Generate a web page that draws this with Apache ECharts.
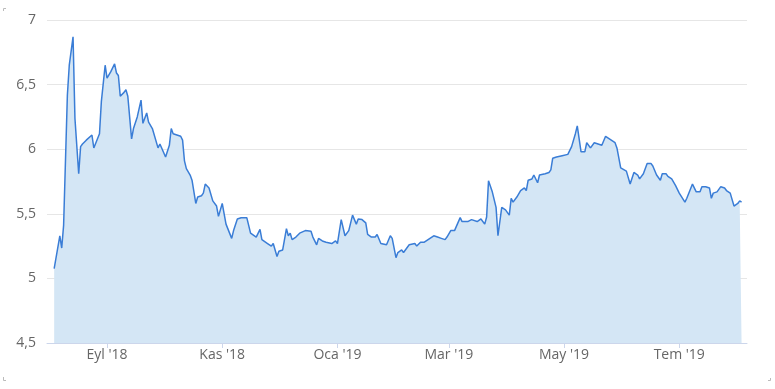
<!DOCTYPE html>
<html>
<head>
<meta charset="utf-8">
<script src="https://cdn.jsdelivr.net/npm/echarts@6/dist/echarts.min.js"></script>
<style>
  html, body { margin: 0; padding: 0; background: #fff; }
  #chart { width: 775px; height: 389px; }
</style>
</head>
<body>
<div id="chart"></div>
<script>
const dates = [
  '2018-08-04','2018-08-07','2018-08-08','2018-08-09','2018-08-11','2018-08-12','2018-08-14','2018-08-15','2018-08-17','2018-08-18',
  '2018-08-19','2018-08-21','2018-08-22','2018-08-24','2018-08-25','2018-08-26','2018-08-28','2018-08-29','2018-08-31','2018-09-01',
  '2018-09-03','2018-09-05','2018-09-06','2018-09-07','2018-09-08','2018-09-10','2018-09-11','2018-09-12','2018-09-14','2018-09-15',
  '2018-09-17','2018-09-19','2018-09-20','2018-09-22','2018-09-23','2018-09-25','2018-09-26','2018-09-28','2018-09-29','2018-10-02',
  '2018-10-04','2018-10-05','2018-10-06','2018-10-08','2018-10-10','2018-10-11','2018-10-12','2018-10-13','2018-10-15','2018-10-16',
  '2018-10-18','2018-10-19','2018-10-21','2018-10-22','2018-10-23','2018-10-25','2018-10-27','2018-10-29','2018-10-30','2018-11-01',
  '2018-11-03','2018-11-06','2018-11-07','2018-11-08','2018-11-09','2018-11-11','2018-11-14','2018-11-16','2018-11-19','2018-11-21',
  '2018-11-22','2018-11-25','2018-11-27','2018-11-28','2018-11-30','2018-12-01','2018-12-03','2018-12-05','2018-12-06','2018-12-07',
  '2018-12-08','2018-12-10','2018-12-12','2018-12-13','2018-12-15','2018-12-18','2018-12-19','2018-12-21','2018-12-22','2018-12-24',
  '2018-12-26','2018-12-27','2018-12-29','2018-12-31','2019-01-01','2019-01-03','2019-01-05','2019-01-07','2019-01-09','2019-01-10',
  '2019-01-11','2019-01-12','2019-01-14','2019-01-16','2019-01-17','2019-01-19','2019-01-21','2019-01-22','2019-01-24','2019-01-27',
  '2019-01-29','2019-01-30','2019-02-01','2019-02-02','2019-02-04','2019-02-05','2019-02-08','2019-02-09','2019-02-11','2019-02-12',
  '2019-02-14','2019-02-16','2019-02-17','2019-02-18','2019-02-19','2019-02-21','2019-02-23','2019-02-25','2019-02-27','2019-02-28',
  '2019-03-02','2019-03-04','2019-03-05','2019-03-07','2019-03-08','2019-03-11','2019-03-13','2019-03-14','2019-03-16','2019-03-18',
  '2019-03-19','2019-03-20','2019-03-21','2019-03-22','2019-03-24','2019-03-26','2019-03-27','2019-03-28','2019-03-29','2019-03-31',
  '2019-04-02','2019-04-03','2019-04-04','2019-04-06','2019-04-08','2019-04-10','2019-04-11','2019-04-12','2019-04-14','2019-04-15',
  '2019-04-17','2019-04-18','2019-04-21','2019-04-23','2019-04-24','2019-04-25','2019-04-27','2019-04-30','2019-05-01','2019-05-03',
  '2019-05-05','2019-05-07','2019-05-08','2019-05-09','2019-05-10','2019-05-12','2019-05-13','2019-05-15','2019-05-17','2019-05-19',
  '2019-05-21','2019-05-23','2019-05-25','2019-05-26','2019-05-28','2019-05-29','2019-05-31','2019-06-01','2019-06-03','2019-06-05',
  '2019-06-07','2019-06-09','2019-06-10','2019-06-12','2019-06-14','2019-06-16','2019-06-17','2019-06-19','2019-06-21','2019-06-22',
  '2019-06-24','2019-06-25','2019-06-27','2019-06-28','2019-06-29','2019-07-01','2019-07-02','2019-07-04','2019-07-05','2019-07-06',
  '2019-07-08','2019-07-09','2019-07-10','2019-07-12','2019-07-13','2019-07-15','2019-07-17','2019-07-18','2019-07-19','2019-07-21',
  '2019-07-23','2019-07-25','2019-07-26','2019-07-28','2019-07-29','2019-07-30','2019-08-01','2019-08-02','2019-08-03'
];
const values = [
  5.075,5.33,5.235,5.41,6.42,6.65,6.87,6.24,5.81,6.02,
  6.04,6.07,6.06,6.11,6.01,6.01,6.12,6.37,6.65,6.55,
  6.60,6.66,6.59,6.57,6.41,6.44,6.46,6.41,6.08,6.16,
  6.25,6.38,6.20,6.28,6.21,6.16,6.15,6.01,6.04,5.94,
  6.03,6.16,6.12,6.11,6.10,6.07,5.91,5.85,5.80,5.76,
  5.58,5.63,5.64,5.66,5.73,5.70,5.60,5.56,5.48,5.58,
  5.42,5.31,5.37,5.37,5.46,5.47,5.47,5.35,5.32,5.38,
  5.30,5.27,5.25,5.27,5.17,5.21,5.22,5.385,5.33,5.35,
  5.30,5.32,5.35,5.34,5.37,5.365,5.32,5.26,5.31,5.29,
  5.28,5.29,5.27,5.29,5.27,5.455,5.33,5.37,5.49,5.49,
  5.42,5.46,5.455,5.43,5.34,5.32,5.32,5.34,5.27,5.26,
  5.33,5.31,5.16,5.20,5.22,5.20,5.26,5.26,5.27,5.25,
  5.28,5.28,5.29,5.30,5.29,5.33,5.32,5.31,5.30,5.32,
  5.37,5.37,5.385,5.47,5.44,5.44,5.455,5.46,5.44,5.46,
  5.47,5.42,5.475,5.755,5.67,5.55,5.33,5.33,5.55,5.53,
  5.49,5.62,5.59,5.63,5.68,5.70,5.68,5.76,5.77,5.80,
  5.74,5.80,5.81,5.82,5.84,5.93,5.94,5.95,5.96,5.96,
  6.02,6.12,6.18,6.19,5.98,5.98,6.05,6.01,6.05,6.04,
  6.03,6.10,6.08,6.07,6.05,6.01,5.855,5.84,5.83,5.73,
  5.82,5.80,5.77,5.81,5.89,5.89,5.87,5.80,5.76,5.81,
  5.81,5.79,5.77,5.785,5.72,5.66,5.65,5.59,5.62,5.63,
  5.73,5.73,5.67,5.67,5.71,5.71,5.70,5.62,5.66,5.67,
  5.71,5.70,5.68,5.66,5.61,5.56,5.58,5.60,5.59
];
const tickDates = ['2018-09-01','2018-11-01','2019-01-01','2019-03-01','2019-05-01','2019-07-01'];
const tickLabels = ["Eyl '18", "Kas '18", "Oca '19", "Mar '19", "May '19", "Tem '19"];

const toTime = s => new Date(s + 'T00:00:00').getTime();
const tickTimes = tickDates.map(toTime);
const seriesData = dates.map((d, i) => [toTime(d), values[i]]);

const chart = echarts.init(document.getElementById('chart'), null, { renderer: 'canvas' });
const FONT = '"Open Sans", sans-serif';

chart.setOption({
  animation: false,
  backgroundColor: '#ffffff',
  grid: { left: 47, right: 28, top: 20, bottom: 46, containLabel: false },
  xAxis: {
    type: 'value',
    min: new Date('2018-07-31T05:00:00').getTime(),
    max: new Date('2019-08-05T21:00:00').getTime(),
    axisLine: { show: true, lineStyle: { color: '#ccd6eb', width: 1 } },
    axisTick: { show: true, customValues: tickTimes, length: 5, lineStyle: { color: '#ccd6eb' } },
    axisLabel: {
      customValues: tickTimes,
      color: '#666666',
      fontFamily: FONT,
      fontSize: 14,
      margin: 5,
      formatter: function (v) {
        const i = tickTimes.indexOf(v);
        return i >= 0 ? tickLabels[i] : '';
      }
    },
    splitLine: { show: false }
  },
  yAxis: {
    type: 'value',
    min: 4.5,
    max: 7,
    interval: 0.5,
    axisLine: { show: false },
    axisTick: { show: false },
    axisLabel: {
      color: '#666666',
      fontFamily: FONT,
      fontSize: 14,
      margin: 11,
      formatter: v => String(v).replace('.', ',')
    },
    splitLine: { show: true, lineStyle: { color: '#e6e6e6', width: 1 } }
  },
  series: [{
    type: 'line',
    data: seriesData,
    symbol: 'none',
    smooth: false,
    lineStyle: { color: '#3a7dd6', width: 1.5 },
    areaStyle: { color: '#d4e6f5', opacity: 1, origin: 'start' },
    z: 3
  }],
  graphic: [
    { type: 'polyline', shape: { points: [[3.5, 11], [3.5, 8.5], [6, 8.5]] }, style: { stroke: '#bbbbbb', fill: null, lineWidth: 1 } },
    { type: 'polyline', shape: { points: [[3.5, 377], [3.5, 380.5], [6, 380.5]] }, style: { stroke: '#bbbbbb', fill: null, lineWidth: 1 } },
    { type: 'polyline', shape: { points: [[768, 380.5], [770.5, 380.5], [770.5, 378]] }, style: { stroke: '#bbbbbb', fill: null, lineWidth: 1 } }
  ]
});
</script>
</body>
</html>
